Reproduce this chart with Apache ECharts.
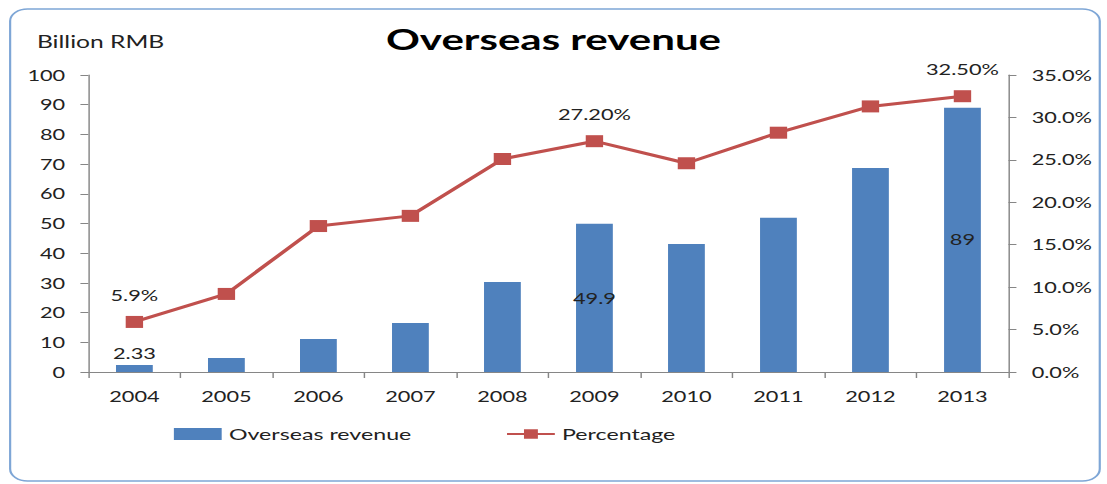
<!DOCTYPE html>
<html>
<head>
<meta charset="utf-8">
<script src="https://cdn.jsdelivr.net/npm/echarts@6/dist/echarts.min.js"></script>
<style>
  html, body { margin: 0; padding: 0; background: #fff; overflow: hidden; }
  /* 原图整体横向拉伸，这里按相同比例拉宽 */
  #main { width: 764px; height: 484px; transform: scaleX(1.44895); transform-origin: 0 0; }
</style>
</head>
<body>
<div id="main"></div>
<script>
// 年份
const years = ['2004', '2005', '2006', '2007', '2008', '2009', '2010', '2011', '2012', '2013'];
// 海外收入（十亿元）
const revenue = [2.33, 4.7, 11.1, 16.5, 30.3, 49.9, 43.1, 51.9, 68.7, 89];
// 占比（%）
const percent = [5.9, 9.2, 17.2, 18.4, 25.1, 27.2, 24.6, 28.2, 31.3, 32.5];
// 数据标签
const revenueLabels = ['2.33', '', '', '', '', '49.9', '', '', '', '89'];
const percentLabels = ['5.9%', '', '', '', '', '27.20%', '', '', '', '32.50%'];

const font = 'Lato';
const textColor = '#222';
const axisColor = '#868686';

const chart = echarts.init(document.getElementById('main'), null, { renderer: 'svg' });

const barData = revenue.map(function (v, i) {
  const item = { value: v };
  if (revenueLabels[i]) {
    item.label = {
      show: true,
      formatter: revenueLabels[i],
      position: i === 0 ? 'top' : 'inside',
      distance: 4
    };
  }
  return item;
});

const lineData = percent.map(function (v, i) {
  const item = { value: v };
  if (percentLabels[i]) {
    item.label = {
      show: true,
      formatter: percentLabels[i],
      position: 'top',
      distance: 13
    };
  }
  return item;
});

const option = {
  backgroundColor: '#fff',
  animation: false,
  title: {
    text: 'Overseas revenue',
    left: 'center',
    top: 19,
    padding: [5, 0, 5, 23],
    textStyle: { fontFamily: font, fontWeight: 'bold', fontSize: 29, color: '#000' }
  },
  graphic: [
    {
      type: 'rect',
      shape: { x: 7, y: 9, width: 752, height: 472, r: 12 },
      style: { fill: 'none', stroke: '#7EA6D6', lineWidth: 1.5 },
      z: -1
    },
    {
      type: 'text',
      left: 25.5,
      top: 33,
      style: { text: 'Billion RMB', fontFamily: font, fontSize: 17, fill: textColor }
    }
  ],
  legend: {
    top: 421,
    left: 115,
    itemGap: 65,
    textStyle: { fontFamily: font, fontSize: 16, color: textColor },
    data: [
      { name: 'Overseas revenue', icon: 'rect', itemWidth: 33, itemHeight: 10 },
      { name: 'Percentage', itemWidth: 36, itemHeight: 12 }
    ],
    itemWidth: 33,
    itemHeight: 12
  },
  grid: { left: 61, right: 68, top: 75, bottom: 112 },
  xAxis: {
    type: 'category',
    data: years,
    axisLine: { lineStyle: { color: axisColor } },
    axisTick: { show: true, length: 6, lineStyle: { color: axisColor } },
    axisLabel: { fontFamily: font, fontSize: 15, color: textColor, margin: 17 }
  },
  yAxis: [
    {
      type: 'value',
      min: 0,
      max: 100,
      interval: 10,
      splitLine: { show: false },
      axisLine: { show: true, lineStyle: { color: axisColor } },
      axisTick: { show: true, length: 5.5, lineStyle: { color: axisColor } },
      axisLabel: { fontFamily: font, fontSize: 15, color: textColor, margin: 16 }
    },
    {
      type: 'value',
      min: 0,
      max: 35,
      interval: 5,
      splitLine: { show: false },
      axisLine: { show: true, lineStyle: { color: axisColor } },
      axisTick: { show: true, length: 5.5, lineStyle: { color: axisColor } },
      axisLabel: {
        fontFamily: font, fontSize: 15, color: textColor, margin: 16,
        formatter: function (v) { return v.toFixed(1) + '%'; }
      }
    }
  ],
  series: [
    {
      name: 'Overseas revenue',
      type: 'bar',
      data: barData,
      barWidth: '40%',
      itemStyle: { color: '#4F81BD' },
      label: { fontFamily: font, fontSize: 15, color: textColor }
    },
    {
      name: 'Percentage',
      type: 'line',
      yAxisIndex: 1,
      data: lineData,
      symbol: 'rect',
      symbolSize: 12,
      lineStyle: { color: '#C0504D', width: 3 },
      itemStyle: { color: '#C0504D' },
      label: { fontFamily: font, fontSize: 15, color: textColor }
    }
  ]
};

chart.setOption(option);
</script>
</body>
</html>
